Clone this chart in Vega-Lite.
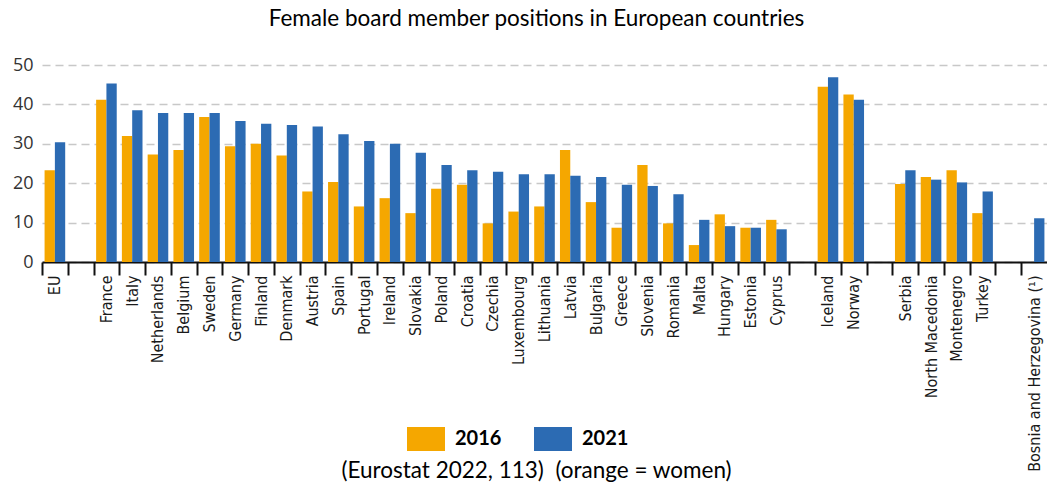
{
  "$schema": "https://vega.github.io/schema/vega-lite/v6.json",
  "width": 1005,
  "height": 197,
  "autosize": {"type": "none"},
  "padding": {"left": 42, "top": 65, "right": 0, "bottom": 233},
  "background": "white",
  "title": {"text": "Female board member positions in European countries", "frame": "group", "anchor": "middle", "offset": 26, "fontSize": 22.5, "font": "Lato", "fontWeight": "normal", "color": "#000", "dx": -8},
  "data": {"values": [
    {"country": "EU", "year": "2016", "value": 23.3}, {"country": "EU", "year": "2021", "value": 30.4},
    {"country": "France", "year": "2016", "value": 41.2}, {"country": "France", "year": "2021", "value": 45.3},
    {"country": "Italy", "year": "2016", "value": 32.0}, {"country": "Italy", "year": "2021", "value": 38.5},
    {"country": "Netherlands", "year": "2016", "value": 27.3}, {"country": "Netherlands", "year": "2021", "value": 37.8},
    {"country": "Belgium", "year": "2016", "value": 28.4}, {"country": "Belgium", "year": "2021", "value": 37.8},
    {"country": "Sweden", "year": "2016", "value": 36.8}, {"country": "Sweden", "year": "2021", "value": 37.8},
    {"country": "Germany", "year": "2016", "value": 29.4}, {"country": "Germany", "year": "2021", "value": 35.8},
    {"country": "Finland", "year": "2016", "value": 30.0}, {"country": "Finland", "year": "2021", "value": 35.1},
    {"country": "Denmark", "year": "2016", "value": 27.0}, {"country": "Denmark", "year": "2021", "value": 34.8},
    {"country": "Austria", "year": "2016", "value": 17.9}, {"country": "Austria", "year": "2021", "value": 34.4},
    {"country": "Spain", "year": "2016", "value": 20.3}, {"country": "Spain", "year": "2021", "value": 32.4},
    {"country": "Portugal", "year": "2016", "value": 14.1}, {"country": "Portugal", "year": "2021", "value": 30.7},
    {"country": "Ireland", "year": "2016", "value": 16.2}, {"country": "Ireland", "year": "2021", "value": 30.0},
    {"country": "Slovakia", "year": "2016", "value": 12.4}, {"country": "Slovakia", "year": "2021", "value": 27.7},
    {"country": "Poland", "year": "2016", "value": 18.6}, {"country": "Poland", "year": "2021", "value": 24.6},
    {"country": "Croatia", "year": "2016", "value": 19.6}, {"country": "Croatia", "year": "2021", "value": 23.3},
    {"country": "Czechia", "year": "2016", "value": 9.8}, {"country": "Czechia", "year": "2021", "value": 22.9},
    {"country": "Luxembourg", "year": "2016", "value": 12.8}, {"country": "Luxembourg", "year": "2021", "value": 22.3},
    {"country": "Lithuania", "year": "2016", "value": 14.1}, {"country": "Lithuania", "year": "2021", "value": 22.3},
    {"country": "Latvia", "year": "2016", "value": 28.4}, {"country": "Latvia", "year": "2021", "value": 21.9},
    {"country": "Bulgaria", "year": "2016", "value": 15.2}, {"country": "Bulgaria", "year": "2021", "value": 21.6},
    {"country": "Greece", "year": "2016", "value": 8.7}, {"country": "Greece", "year": "2021", "value": 19.6},
    {"country": "Slovenia", "year": "2016", "value": 24.6}, {"country": "Slovenia", "year": "2021", "value": 19.3},
    {"country": "Romania", "year": "2016", "value": 9.8}, {"country": "Romania", "year": "2021", "value": 17.2},
    {"country": "Malta", "year": "2016", "value": 4.3}, {"country": "Malta", "year": "2021", "value": 10.7},
    {"country": "Hungary", "year": "2016", "value": 12.1}, {"country": "Hungary", "year": "2021", "value": 9.1},
    {"country": "Estonia", "year": "2016", "value": 8.7}, {"country": "Estonia", "year": "2021", "value": 8.7},
    {"country": "Cyprus", "year": "2016", "value": 10.7}, {"country": "Cyprus", "year": "2021", "value": 8.3},
    {"country": "Iceland", "year": "2016", "value": 44.5}, {"country": "Iceland", "year": "2021", "value": 46.9},
    {"country": "Norway", "year": "2016", "value": 42.5}, {"country": "Norway", "year": "2021", "value": 41.2},
    {"country": "Serbia", "year": "2016", "value": 19.8}, {"country": "Serbia", "year": "2021", "value": 23.3},
    {"country": "North Macedonia", "year": "2016", "value": 21.6}, {"country": "North Macedonia", "year": "2021", "value": 20.9},
    {"country": "Montenegro", "year": "2016", "value": 23.3}, {"country": "Montenegro", "year": "2021", "value": 20.2},
    {"country": "Turkey", "year": "2016", "value": 12.4}, {"country": "Turkey", "year": "2021", "value": 17.9},
    {"country": "Bosnia and Herzegovina (¹)", "year": "2021", "value": 11.1}
  ]},
  "mark": {"type": "bar"},
  "encoding": {
    "x": {
      "field": "country", "type": "nominal",
      "scale": {"domain": ["EU", "gap1", "France", "Italy", "Netherlands", "Belgium", "Sweden", "Germany", "Finland", "Denmark", "Austria", "Spain", "Portugal", "Ireland", "Slovakia", "Poland", "Croatia", "Czechia", "Luxembourg", "Lithuania", "Latvia", "Bulgaria", "Greece", "Slovenia", "Romania", "Malta", "Hungary", "Estonia", "Cyprus", "gap2", "Iceland", "Norway", "gap3", "Serbia", "North Macedonia", "Montenegro", "Turkey", "gap4", "Bosnia and Herzegovina (¹)"], "paddingInner": 0, "paddingOuter": 0},
      "axis": {
        "title": "(Eurostat 2022, 113)\u00a0 (orange = women)",
        "titleFont": "Lato", "titleFontSize": 22.5, "titleFontWeight": "normal", "titleColor": "#000",
        "titleX": 494, "titleY": 215, "titleBaseline": "alphabetic",
        "labelAngle": -90, "labelFont": "DejaVu Sans Condensed", "labelFontSize": 16, "labelColor": "#1a1a1a",
        "labelPadding": 0, "labelLimit": 400, "labelOverlap": false,
        "labelExpr": "indexof(datum.value, 'gap') === 0 ? '' : datum.value",
        "tickOffset": -12.885, "labelOffset": 12.885,
        "tickSize": 13, "tickWidth": 2, "tickColor": "#111",
        "domainColor": "#111", "domainWidth": 2, "grid": false
      }
    },
    "xOffset": {"field": "year", "type": "nominal", "scale": {"paddingOuter": 0.25, "paddingInner": 0}},
    "y": {
      "field": "value", "type": "quantitative",
      "scale": {"domain": [0, 50], "nice": false},
      "axis": {"title": null, "values": [0, 10, 20, 30, 40, 50], "domain": false, "ticks": false,
        "labelFont": "Open Sans", "labelFontSize": 18, "labelColor": "#333", "labelPadding": 9,
        "grid": true, "gridDash": [8, 5], "gridColor": "#c8c8c8", "gridWidth": 1.5}
    },
    "color": {
      "field": "year", "type": "nominal",
      "scale": {"domain": ["2016", "2021"], "range": ["#F5A700", "#2C6BB3"]},
      "legend": {"title": null, "orient": "none", "legendX": 365, "legendY": 355, "direction": "horizontal",
        "symbolType": "M-1,-0.63H1V0.63H-1Z", "symbolSize": 1444, "symbolStrokeWidth": 0, "symbolOpacity": 1,
        "labelFont": "Lato", "labelFontSize": 20, "labelFontWeight": "bold", "labelColor": "#000",
        "labelOffset": 10, "columnPadding": 32}
    }
  },
  "config": {"view": {"stroke": null}}
}
